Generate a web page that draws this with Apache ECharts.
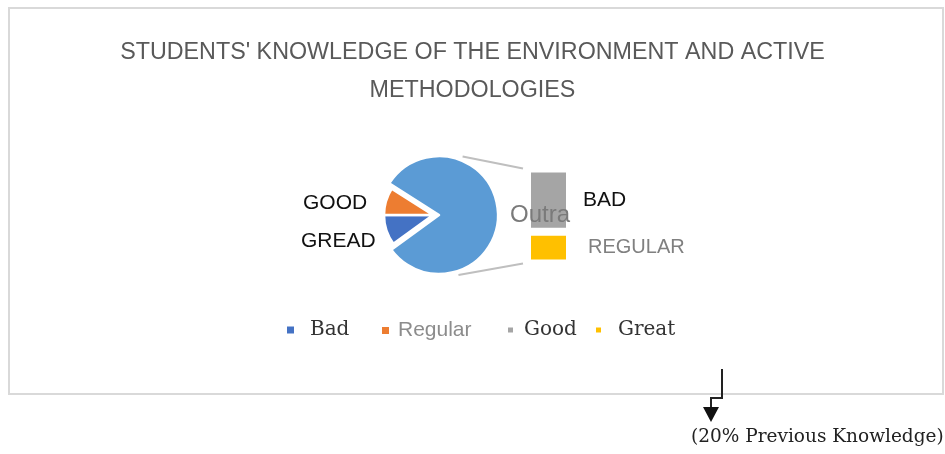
<!DOCTYPE html>
<html>
<head>
<meta charset="utf-8">
<script src="https://cdn.jsdelivr.net/npm/echarts@6/dist/echarts.min.js"></script>
<style>
  html, body { margin: 0; padding: 0; background: #fff; }
  #main { width: 945px; height: 454px; }
</style>
</head>
<body>
<div id="main"></div>
<script>
// pie slices (clockwise from the lower left), the last one is split into the bar
const pieNames = ['Bad', 'Regular', 'Outra'];
const pieValues = [10, 9, 81];
const pieLabels = ['GREAD', 'GOOD', 'Outra'];

// stacked bar, bottom to top
const barNames = ['Great', 'Good'];
const barValues = [27, 54];
const barLabels = ['REGULAR', 'BAD'];

const legendNames = ['Bad', 'Regular', 'Good', 'Great'];
const noteText = '(20% Previous Knowledge)';

const colors = { Bad: '#4472C4', Regular: '#ED7D31', Outra: '#5B9BD5', Good: '#A5A5A5', Great: '#FFC000' };
const none = 'rgba(0,0,0,0)';

// layout bits
const pieCenter = [439, 215];
const smallCenter = [433, 215];
const outerRadius = 59;
const innerRadius = 49;
const labelAnchors = [[301, 241], [303, 203], [510, 215]];
const legendPos = [[282, 11], [377, 4], [501, 5], [589, 11]];
const serif = 'DejaVu Serif';
const sans = 'Liberation Sans';

const chart = echarts.init(document.getElementById('main'));

// the big "Outra" slice is drawn full size, the two small slices a bit smaller and pulled out
function pieItems(big) {
  return pieNames.map((n, i) => {
    const mine = big ? n === 'Outra' : n !== 'Outra';
    return {
      name: n,
      value: pieValues[i],
      itemStyle: mine ? { color: colors[n], borderColor: '#fff', borderWidth: 2.5 }
                      : { color: none, borderColor: none, borderWidth: 0 },
      label: {
        show: mine,
        formatter: pieLabels[i],
        color: n === 'Outra' ? '#7a7a7a' : '#111',
        fontSize: n === 'Outra' ? 24 : 21
      }
    };
  });
}

const pieBase = {
  type: 'pie',
  startAngle: 216,
  clockwise: true,
  selectedMode: false,
  avoidLabelOverlap: false,
  emphasis: { disabled: true },
  label: { position: 'inside', fontFamily: sans },
  labelLine: { show: false },
  labelLayout: function (p) {
    const a = labelAnchors[p.dataIndex];
    return { x: a[0], y: a[1], align: 'left', verticalAlign: 'middle' };
  },
  z: 3
};

const barSeries = barNames.map((n, i) => ({
  name: n,
  type: 'bar',
  stack: 'outra',
  barWidth: '100%',
  z: 1,
  itemStyle: { color: colors[n], borderColor: '#fff', borderWidth: 4 },
  label: {
    show: true,
    position: 'right',
    distance: i === 0 ? 18 : 13,
    formatter: barLabels[i],
    fontFamily: sans,
    fontSize: i === 0 ? 20 : 21,
    color: i === 0 ? '#808080' : '#111'
  },
  data: [barValues[i]]
}));

const legends = legendNames.map((n, i) => ({
  left: legendPos[i][0],
  top: 315,
  icon: 'rect',
  itemWidth: 7,
  itemHeight: 7,
  selectedMode: false,
  data: [{
    name: n,
    itemStyle: { color: colors[n] },
    textStyle: n === 'Regular'
      ? { fontFamily: sans, fontSize: 21, color: '#8c8c8c', padding: [0, 0, 0, legendPos[i][1]] }
      : { fontFamily: serif, fontSize: 20, color: '#333', padding: [0, 0, 0, legendPos[i][1]] }
  }]
}));

chart.setOption({
  animation: false,
  title: {
    text: "STUDENTS' KNOWLEDGE OF THE ENVIRONMENT AND ACTIVE\nMETHODOLOGIES",
    left: 'center',
    top: 29,
    padding: [5, 5, 5, 11],
    textStyle: { fontFamily: sans, fontSize: 23.3, fontWeight: 'normal', color: '#595959', lineHeight: 38 }
  },
  legend: legends,
  grid: { left: 527, width: 43, top: 168.5, height: 95 },
  xAxis: { type: 'category', data: ['Outra'], show: false },
  yAxis: { type: 'value', min: 0, max: pieValues[2], show: false },
  series: [
    Object.assign({}, pieBase, { name: 'outer', center: pieCenter, radius: outerRadius, data: pieItems(true) }),
    Object.assign({}, pieBase, { name: 'inner', center: smallCenter, radius: innerRadius, data: pieItems(false) })
  ].concat(barSeries)
});

// connector lines from the pie to the bar, plus frame and annotation
const barTop = chart.convertToPixel({ gridIndex: 0 }, [0, pieValues[2]]);
const barBottom = chart.convertToPixel({ gridIndex: 0 }, [0, 0]);
const barLeft = 530 - 7;
const rad = a => a * Math.PI / 180;
const onPie = a => [pieCenter[0] + (outerRadius + 4) * Math.cos(rad(a)), pieCenter[1] - (outerRadius + 4) * Math.sin(rad(a))];

chart.setOption({
  graphic: [
    { type: 'rect', shape: { x: 9, y: 8, width: 934, height: 386 }, style: { fill: null, stroke: '#d9d9d9', lineWidth: 2 } },
    { type: 'line', shape: { x1: onPie(68)[0], y1: onPie(68)[1], x2: barLeft, y2: barTop[1] }, style: { stroke: '#bfbfbf', lineWidth: 2 } },
    { type: 'line', shape: { x1: onPie(-72)[0], y1: onPie(-72)[1], x2: barLeft, y2: barBottom[1] }, style: { stroke: '#bfbfbf', lineWidth: 2 } },
    { type: 'polyline', shape: { points: [[722, 369], [722, 398], [711, 398], [711, 408]] }, style: { fill: null, stroke: '#222', lineWidth: 2 } },
    { type: 'polygon', shape: { points: [[703, 407], [719, 407], [711, 422]] }, style: { fill: '#111' } },
    { type: 'text', x: 691, y: 437, style: { text: noteText, font: '18.5px "DejaVu Serif"', fill: '#222', verticalAlign: 'middle' } }
  ]
});
</script>
</body>
</html>
